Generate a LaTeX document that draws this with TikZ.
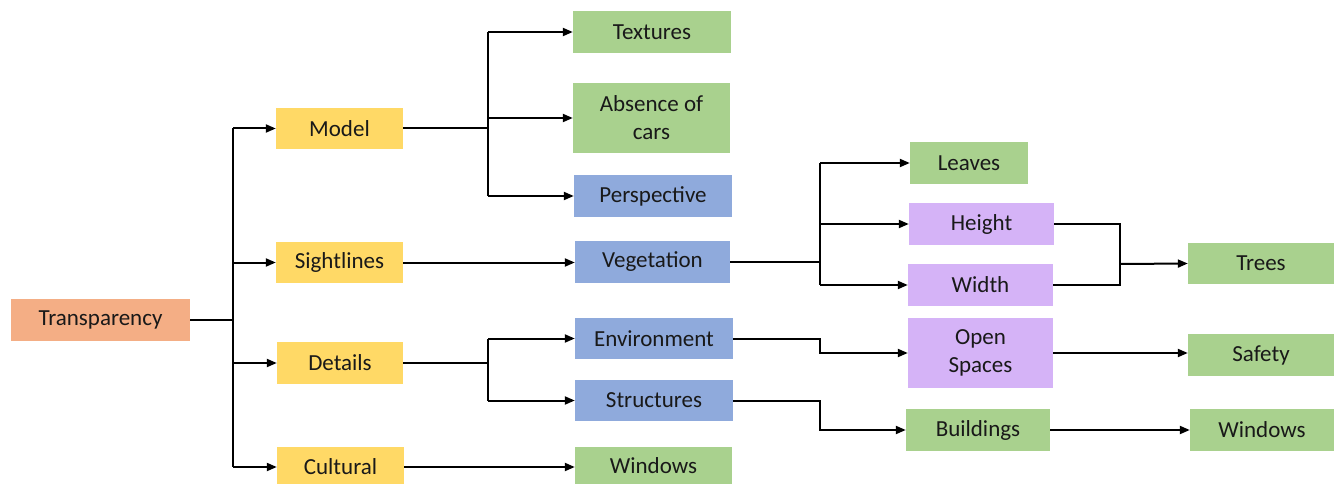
\documentclass[tikz,border=0pt]{standalone}
\usepackage{fontspec}
\setmainfont{Carlito}
\usetikzlibrary{arrows.meta}
\definecolor{corange}{HTML}{F4AE85}
\definecolor{cyellow}{HTML}{FFD966}
\definecolor{cgreen}{HTML}{A9D18E}
\definecolor{cblue}{HTML}{8FAADC}
\definecolor{cpurple}{HTML}{D5B3F7}
\tikzset{
  box/.style={rectangle, inner sep=0pt, align=center, font=\fontsize{23}{28}\selectfont, text=black!90},
  wire/.style={line width=2pt, black},
  arr/.style={wire, -{Triangle[length=10pt,width=8pt]}},
}
\begin{document}
\begin{tikzpicture}[x=1pt,y=-1pt]
\useasboundingbox (0,0) rectangle (1341,484);
% column 1
\node[box, fill=corange, minimum width=179pt, minimum height=42pt] (tr) at (100.5,320) {Transparency};
% column 2
\node[box, fill=cyellow, minimum width=127pt, minimum height=41pt] (model) at (339.5,128.5) {Model};
\node[box, fill=cyellow, minimum width=127pt, minimum height=41pt] (sight) at (339.5,262.5) {Sightlines};
\node[box, fill=cyellow, minimum width=126pt, minimum height=42pt] (det) at (340,363) {Details};
\node[box, fill=cyellow, minimum width=127pt, minimum height=40pt] (cult) at (340.5,467) {Cultural};
% column 3
\node[box, fill=cgreen, minimum width=158pt, minimum height=42pt] (tex) at (652,32) {Textures};
\node[box, fill=cgreen, minimum width=157pt, minimum height=70pt] (abs) at (651.5,118) {Absence of\\cars};
\node[box, fill=cblue, minimum width=158pt, minimum height=42pt] (persp) at (653,196) {Perspective};
\node[box, fill=cblue, minimum width=155pt, minimum height=42pt] (veg) at (652.5,262) {Vegetation};
\node[box, fill=cblue, minimum width=158pt, minimum height=41pt] (env) at (654,338.5) {Environment};
\node[box, fill=cblue, minimum width=158pt, minimum height=41pt] (str) at (654,400.5) {Structures};
\node[box, fill=cgreen, minimum width=157pt, minimum height=39pt] (win1) at (653.5,466) {Windows};
% column 4
\node[box, fill=cgreen, minimum width=118pt, minimum height=42pt] (leaves) at (969,163) {Leaves};
\node[box, fill=cpurple, minimum width=145pt, minimum height=42pt] (height) at (981.5,224) {Height};
\node[box, fill=cpurple, minimum width=145pt, minimum height=42pt] (width) at (980.5,285) {Width};
\node[box, fill=cpurple, minimum width=145pt, minimum height=70pt] (open) at (980.5,353) {Open\\Spaces};
\node[box, fill=cgreen, minimum width=144pt, minimum height=42pt] (build) at (978,430) {Buildings};
% column 5
\node[box, fill=cgreen, minimum width=146pt, minimum height=41pt] (trees) at (1261,263.5) {Trees};
\node[box, fill=cgreen, minimum width=146pt, minimum height=42pt] (safety) at (1261,355) {Safety};
\node[box, fill=cgreen, minimum width=144pt, minimum height=42pt] (win2) at (1262,430) {Windows};
% junction coordinates
\coordinate (j1) at (233,320);
\coordinate (j2) at (488,128.5);
\coordinate (j3) at (820,262);
\coordinate (j4) at (1120,264);
\coordinate (j5) at (488,363);
% connectors
\draw[wire] (tr.east) -- (j1);
\draw[wire] (j1 |- model.west) -- (j1 |- cult.west);
\draw[arr] (j1 |- model.west) -- (model.west);
\draw[arr] (j1 |- sight.west) -- (sight.west);
\draw[arr] (j1 |- det.west) -- (det.west);
\draw[arr] (j1 |- cult.west) -- (cult.west);
\draw[wire] (model.east) -- (j2);
\draw[wire] (j2 |- tex.west) -- (j2 |- persp.west);
\draw[arr] (j2 |- tex.west) -- (tex.west);
\draw[arr] (j2 |- abs.west) -- (abs.west);
\draw[arr] (j2 |- persp.west) -- (persp.west);
\draw[arr] (sight.east) -- (sight.east -| veg.west);
\draw[wire] (veg.east) -- (j3);
\draw[wire] (j3 |- leaves.west) -- (j3 |- width.west);
\draw[arr] (j3 |- leaves.west) -- (leaves.west);
\draw[arr] (j3 |- height.west) -- (height.west);
\draw[arr] (j3 |- width.west) -- (width.west);
\draw[wire] (height.east) -| (j4) |- (width.east);
\draw[arr] (j4) -- (trees.west);
\draw[wire] (det.east) -- (j5);
\draw[wire] (j5 |- env.west) -- (j5 |- str.west);
\draw[arr] (j5 |- env.west) -- (env.west);
\draw[arr] (j5 |- str.west) -- (str.west);
\draw[arr] (env.east) -- ++(87,0) |- (open.west);
\draw[arr] (open.east) -- (open.east -| safety.west);
\draw[arr] (str.east) -- ++(87,0) |- (build.west);
\draw[arr] (build.east) -- (build.east -| win2.west);
\draw[arr] (cult.east) -- (cult.east -| win1.west);
\end{tikzpicture}
\end{document}
